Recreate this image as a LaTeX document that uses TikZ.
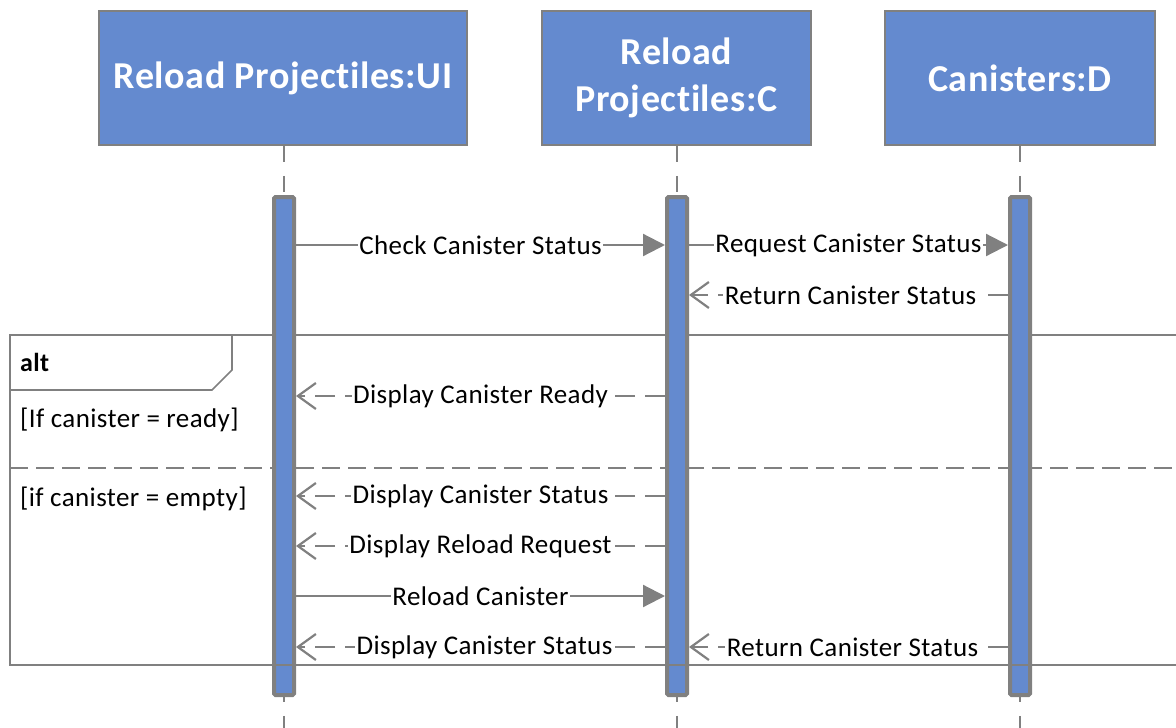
\documentclass[tikz,border=0pt]{standalone}
\usepackage{fontspec}
\setmainfont{Carlito}[Ligatures=NoCommon, LetterSpace=1.5]
\usetikzlibrary{arrows.meta}
\definecolor{boxblue}{RGB}{100,138,207}
\definecolor{linegray}{RGB}{128,128,128}
\begin{document}
\begin{tikzpicture}[x=1pt,y=-1pt,
  head/.style={draw=linegray, line width=1.6pt, fill=boxblue, text=white,
    font=\fontsize{38}{47}\selectfont\bfseries, align=center,
    minimum height=134pt, inner sep=0pt},
  lifeline/.style={draw=linegray, line width=2.2pt, dash pattern=on 16pt off 14pt},
  actbar/.style={draw=linegray, line width=4pt, fill=boxblue, rounded corners=1.5pt},
  msg/.style={draw=linegray, line width=2.2pt,
    -{Triangle[length=22pt,width=22pt]}},
  reply/.style={draw=linegray, line width=2.2pt, dash pattern=on 20pt off 10pt,
    -{Straight Barb[length=18pt,width=26pt,line width=2.2pt]}},
  lbl/.style={fill=white, inner sep=1.5pt, text=black,
    font=\fontsize{27}{30}\selectfont},
  frame/.style={draw=linegray, line width=1.6pt},
  guard/.style={anchor=base west, inner sep=0pt, font=\fontsize{27}{30}\selectfont}]

\useasboundingbox (0,0) rectangle (1176,728);
\clip (0,0) rectangle (1176,728);

% participant heads
\node[head, minimum width=368pt] (ui) at (283,78) {Reload Projectiles:UI};
\node[head, minimum width=269pt] (ctl) at (676.5,78) {Reload\\Projectiles:C};
\node[head, minimum width=270pt] (dat) at (1020,78) {Canisters:D};

% lifelines
\coordinate (uiEnd) at (284,728);
\coordinate (ctlEnd) at (677,728);
\coordinate (datEnd) at (1020,728);
\draw[lifeline] (ui.south -| uiEnd) -- (uiEnd);
\draw[lifeline] (ctl.south -| ctlEnd) -- (ctlEnd);
\draw[lifeline] (dat.south -| datEnd) -- (datEnd);

% combined fragment (alt)
\draw[frame] (1190,335) -- (10,335) -- (10,665) -- (1190,665);
\draw[frame] (10,390) -- (212,390) -- (232,370) -- (232,335);
\draw[draw=linegray, line width=1.6pt, dash pattern=on 18pt off 8pt] (10,468) -- (1190,468);
\node[guard, font=\fontsize{26}{28}\selectfont\bfseries] (alt) at (20,371) {alt};
\node[guard] (g1) at (20,427) {[If canister = ready]};
\node[guard] (g2) at (20,506) {[if canister = empty]};

% activation bars
\node[actbar, minimum width=20pt, minimum height=498pt, inner sep=0pt] (aui) at (284,446) {};
\node[actbar, minimum width=20pt, minimum height=498pt, inner sep=0pt] (actl) at (677,446) {};
\node[actbar, minimum width=20pt, minimum height=498pt, inner sep=0pt] (adat) at (1020,446) {};

% lower edge of the fragment runs over the bars
\draw[frame] (10,665) -- (1190,665);

% messages
\draw[msg] (aui.east |- 0,245) -- node[lbl] {Check Canister Status} (actl.west |- 0,245);
\draw[msg] (actl.east |- 0,245) -- node[lbl] {Request Canister Status} (adat.west |- 0,245);
\draw[reply] (adat.west |- 0,295) -- node[lbl, xshift=2pt] {Return Canister Status} (actl.east |- 0,295);
\draw[reply] (actl.west |- 0,396) -- node[lbl] {Display Canister Ready} (aui.east |- 0,396);
\draw[reply] (actl.west |- 0,496) -- node[lbl] {Display Canister Status} (aui.east |- 0,496);
\draw[reply] (actl.west |- 0,546) -- node[lbl] {Display Reload Request} (aui.east |- 0,546);
\draw[msg] (aui.east |- 0,596) -- node[lbl] {Reload Canister} (actl.west |- 0,596);
\draw[reply] (actl.west |- 0,647) -- node[lbl, xshift=4pt] {Display Canister Status} (aui.east |- 0,647);
\draw[reply] (adat.west |- 0,647) -- node[lbl, xshift=4pt] {Return Canister Status} (actl.east |- 0,647);
\end{tikzpicture}
\end{document}
